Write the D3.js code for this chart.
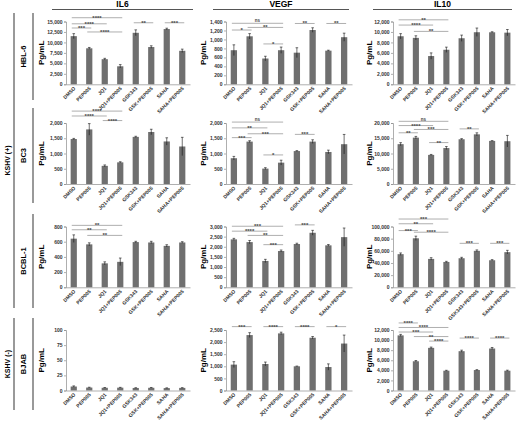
<!DOCTYPE html>
<meta charset="utf-8">
<style>
  body { margin: 0; background: #fff; }
  svg { font-family: "Liberation Sans", Arial, sans-serif; font-weight: bold; }
  .axis path, .axis line { stroke: #8c8c8c; stroke-width: 0.7px; fill: none; }
  .axis text { fill: #333; font-size: 5px; font-weight: bold; font-family: "Liberation Sans", Arial, sans-serif; }
  .bar { fill: #6f6f6f; }
  .err { stroke: #111; stroke-width: 0.6px; }
  .sig line { stroke: #8c8c8c; stroke-width: 0.7px; }
  .sig text { fill: #444; font-size: 6px; text-anchor: middle; }
  .frame { stroke: #555; stroke-width: 1.2px; }
</style>
<body>
<script src="https://d3js.org/d3.v7.min.js"></script>
<script>

  // categories (tick labels)
  var cats = ["DMSO", "PEP005", "JQ1", "JQ1+PEP005", "GSK343", "GSK+PEP005", "SAHA", "SAHA+PEP005"];
  var catsAlt = ["DMSO", "PEP005", "JQ1", "JQ1+PEP005", "GSK343", "GSK343+PEP005", "SAHA", "SAHA+PEP005"];

  var cytokines = ["IL6", "VEGF", "IL10"];
  var cellLines = ["HBL-6", "BC3", "BCBL-1", "BJAB"];

  // means (Pg/mL) and error bars
  var il6_HBL6 = [11500, 8600, 6000, 4300, 12300, 8900, 13200, 8000];
  var il6_HBL6_err = [600, 200, 200, 400, 700, 300, 200, 400];
  var il6_BC3 = [1475, 1790, 595, 710, 1545, 1705, 1395, 1230];
  var il6_BC3_err = [20, 190, 30, 20, 20, 90, 120, 300];
  var il6_BCBL1 = [640, 565, 315, 335, 595, 590, 545, 590];
  var il6_BCBL1_err = [50, 20, 20, 50, 10, 15, 15, 10];
  var il6_BJAB = [6.6, 4.9, 4.5, 4.7, 4.2, 4.5, 4.0, 4.3];
  var il6_BJAB_err = [1, 0.5, 0.4, 0.5, 0.4, 0.5, 0.4, 0.4];

  var vegf_HBL6 = [760, 1070, 575, 760, 705, 1210, 750, 1050];
  var vegf_HBL6_err = [120, 60, 50, 70, 110, 50, 10, 90];
  var vegf_BC3 = [845, 1390, 505, 700, 1080, 1390, 1050, 1305];
  var vegf_BC3_err = [60, 30, 30, 80, 15, 60, 60, 320];
  var vegf_BCBL1 = [2365, 2230, 1300, 1790, 2135, 2690, 2070, 2475];
  var vegf_BCBL1_err = [50, 80, 80, 50, 40, 120, 40, 450];
  var vegf_BJAB = [1070, 2290, 1095, 2360, 1000, 2180, 970, 1940];
  var vegf_BJAB_err = [120, 100, 80, 50, 10, 50, 130, 350];

  var il10_HBL6 = [9180, 8870, 5400, 6600, 8800, 9950, 9940, 9870];
  var il10_HBL6_err = [500, 400, 600, 500, 600, 800, 100, 600];
  var il10_BC3 = [13060, 15200, 9540, 11780, 14670, 16280, 14130, 14030];
  var il10_BC3_err = [500, 400, 150, 500, 200, 500, 100, 1900];
  var il10_BCBL1 = [54500, 80600, 46700, 41700, 47800, 60000, 44500, 57800];
  var il10_BCBL1_err = [2000, 3500, 2000, 1000, 1500, 1500, 1000, 3000];
  var il10_BJAB = [10930, 5800, 8460, 3930, 7800, 4060, 8330, 3930];
  var il10_BJAB_err = [200, 150, 150, 80, 200, 80, 200, 100];

  // y-axis ticks per panel
  var ticks_il6 = [[0, 2500, 5000, 7500, 10000, 12500, 15000], [0, 500, 1000, 1500, 2000], [0, 200, 400, 600, 800], [0, 25, 50, 75, 100]];
  var ticks_vegf = [[0, 200, 400, 600, 800, 1000, 1200, 1400], [0, 500, 1000, 1500, 2000], [0, 500, 1000, 1500, 2000, 2500, 3000], [0, 500, 1000, 1500, 2000, 2500]];
  var ticks_il10 = [[0, 2000, 4000, 6000, 8000, 10000, 12000], [0, 5000, 10000, 15000, 20000], [0, 20000, 40000, 60000, 80000, 100000], [0, 2000, 4000, 6000, 8000, 10000, 12000]];

  // significance brackets: [from, to, height (Pg/mL), label]
  var sig_il6_HBL6 = [[0, 3, 15900, "****"], [0, 2, 14450, "****"], [0, 1, 13450, "***"], [1, 3, 12500, "****"], [4, 5, 14700, "**"], [6, 7, 14700, "***"]];
  var sig_il6_BC3 = [[0, 3, 2390, "****"], [0, 2, 2230, "****"], [2, 3, 2080, "****"]];
  var sig_il6_BCBL1 = [[0, 3, 815, "**"], [0, 2, 757, "**"], [1, 3, 683, "**"]];
  var sig_il6_BJAB = [];
  var sig_vegf_HBL6 = [[0, 3, 1360, "ns"], [1, 3, 1268, "**"], [0, 1, 1210, "*"], [2, 3, 900, "*"], [4, 5, 1356, "**"], [6, 7, 1356, "**"]];
  var sig_vegf_BC3 = [[0, 3, 2030, "ns"], [0, 2, 1840, "**"], [1, 3, 1647, "***"], [0, 1, 1520, "***"], [2, 3, 953, "*"], [4, 5, 1627, "***"]];
  var sig_vegf_BCBL1 = [[0, 3, 3013, "***"], [0, 2, 2770, "****"], [1, 3, 2560, "**"], [2, 3, 2104, "***"], [4, 5, 3080, "***"]];
  var sig_vegf_BJAB = [[0, 1, 2640, "***"], [2, 3, 2640, "****"], [4, 5, 2640, "****"], [6, 7, 2640, "*"]];
  var sig_il10_HBL6 = [[0, 3, 12320, "**"], [0, 2, 11320, "****"], [1, 3, 10110, "**"]];
  var sig_il10_BC3 = [[0, 3, 20550, "ns"], [0, 2, 19160, "****"], [1, 3, 17880, "***"], [0, 1, 16790, "**"], [2, 3, 13580, "**"], [4, 5, 18070, "**"]];
  var sig_il10_BCBL1 = [[0, 3, 112300, "***"], [0, 2, 104500, "**"], [0, 1, 93300, "***"], [1, 3, 90600, "****"], [4, 5, 72300, "***"], [6, 7, 72300, "***"]];
  var sig_il10_BJAB = [[0, 1, 13400, "****"], [0, 3, 12500, "****"], [0, 2, 11600, "***"], [1, 3, 10700, "**"], [2, 3, 9800, "****"], [4, 5, 10400, "****"], [6, 7, 10400, "****"]];

  var panels = [
    [[il6_HBL6, il6_HBL6_err, sig_il6_HBL6, cats], [vegf_HBL6, vegf_HBL6_err, sig_vegf_HBL6, cats], [il10_HBL6, il10_HBL6_err, sig_il10_HBL6, cats]],
    [[il6_BC3, il6_BC3_err, sig_il6_BC3, cats], [vegf_BC3, vegf_BC3_err, sig_vegf_BC3, cats], [il10_BC3, il10_BC3_err, sig_il10_BC3, cats]],
    [[il6_BCBL1, il6_BCBL1_err, sig_il6_BCBL1, cats], [vegf_BCBL1, vegf_BCBL1_err, sig_vegf_BCBL1, cats], [il10_BCBL1, il10_BCBL1_err, sig_il10_BCBL1, catsAlt]],
    [[il6_BJAB, il6_BJAB_err, sig_il6_BJAB, cats], [vegf_BJAB, vegf_BJAB_err, sig_vegf_BJAB, cats], [il10_BJAB, il10_BJAB_err, sig_il10_BJAB, cats]]
  ];
  var tickSets = [ticks_il6, ticks_vegf, ticks_il10];

  // layout
  var colBox = [{x0: 66, x1: 190, lab: 44, h0: 52, h1: 193},
                {x0: 226, x1: 352, lab: 206, h0: 213, h1: 349},
                {x0: 393, x1: 515, lab: 372, h0: 373, h1: 512}];
  var rowBox = [{top: 21.5, bottom: 84.3, l0: 13, l1: 100},
                {top: 123, bottom: 184, l0: 108, l1: 203},
                {top: 226.5, bottom: 287.3, l0: 214, l1: 308},
                {top: 330, bottom: 390.5, l0: 318, l1: 410}];

  var svg = d3.select("body").append("svg")
    .attr("width", 520)
    .attr("height", 422);

  var fmt = d3.format(",");

  // column headers
  colBox.forEach(function(c, j) {
    svg.append("text")
      .attr("x", (c.h0 + c.h1) / 2).attr("y", 7)
      .attr("text-anchor", "middle")
      .style("font-size", "8.5px")
      .text(cytokines[j]);
    svg.append("line").attr("class", "frame")
      .attr("x1", c.h0).attr("x2", c.h1).attr("y1", 9.5).attr("y2", 9.5);
  });

  // row labels
  rowBox.forEach(function(r, i) {
    var cy = (r.l0 + r.l1) / 2;
    svg.append("line").attr("class", "frame")
      .attr("x1", 33).attr("x2", 33).attr("y1", r.l0).attr("y2", r.l1);
    svg.append("text")
      .attr("transform", "translate(26," + cy + ") rotate(-90)")
      .attr("text-anchor", "middle")
      .style("font-size", "7.5px")
      .text(cellLines[i]);
  });

  // KSHV groups
  var groups = [{label: "KSHV (+)", y0: 13, y1: 308}, {label: "KSHV (-)", y0: 318, y1: 410}];
  groups.forEach(function(g) {
    svg.append("line").attr("class", "frame")
      .attr("x1", 14).attr("x2", 14).attr("y1", g.y0).attr("y2", g.y1);
    svg.append("text")
      .attr("transform", "translate(9.5," + (g.y0 + g.y1) / 2 + ") rotate(-90)")
      .attr("text-anchor", "middle")
      .style("font-size", "7px")
      .text(g.label);
  });

  // panels
  panels.forEach(function(row, i) {
    var r = rowBox[i];
    row.forEach(function(p, j) {
      var c = colBox[j];
      var vals = p[0], errs = p[1], sigs = p[2], labels = p[3];
      var tk = tickSets[j][i];

      var x = d3.scaleBand()
        .domain(d3.range(vals.length))
        .range([c.x0, c.x1])
        .paddingInner(0.6)
        .paddingOuter(0.3);

      var y = d3.scaleLinear()
        .domain([0, tk[tk.length - 1]])
        .range([r.bottom, r.top]);

      var g = svg.append("g");

      // bars
      g.selectAll(".bar")
        .data(vals)
        .enter().append("rect")
        .attr("class", "bar")
        .attr("x", function(d, k) { return x(k); })
        .attr("width", x.bandwidth())
        .attr("y", function(d) { return y(d); })
        .attr("height", function(d) { return y(0) - y(d); });

      // error bars
      var eb = g.selectAll(".eb")
        .data(vals)
        .enter().append("g")
        .attr("class", "eb");
      eb.append("line").attr("class", "err")
        .attr("x1", function(d, k) { return x(k) + x.bandwidth() / 2; })
        .attr("x2", function(d, k) { return x(k) + x.bandwidth() / 2; })
        .attr("y1", function(d, k) { return y(d - errs[k]); })
        .attr("y2", function(d, k) { return y(d + errs[k]); });
      eb.append("line").attr("class", "err")
        .attr("x1", function(d, k) { return x(k) + x.bandwidth() / 2 - 1.3; })
        .attr("x2", function(d, k) { return x(k) + x.bandwidth() / 2 + 1.3; })
        .attr("y1", function(d, k) { return y(d + errs[k]); })
        .attr("y2", function(d, k) { return y(d + errs[k]); });

      // y axis
      g.append("g")
        .attr("class", "axis")
        .attr("transform", "translate(" + c.x0 + ",0)")
        .call(d3.axisLeft(y).tickValues(tk).tickFormat(fmt).tickSize(2).tickPadding(1.5));

      // x axis
      var xa = g.append("g")
        .attr("class", "axis")
        .attr("transform", "translate(0," + r.bottom + ")")
        .call(d3.axisBottom(x).tickSize(0).tickFormat(function(k) { return labels[k]; }));
      xa.selectAll("text")
        .attr("text-anchor", "end")
        .attr("dy", null)
        .attr("y", 0)
        .attr("transform", "translate(2,4.5) rotate(-45)");

      // y label
      svg.append("text")
        .attr("transform", "translate(" + c.lab + "," + (r.top + r.bottom) / 2 + ") rotate(-90)")
        .attr("text-anchor", "middle")
        .style("font-size", "8px")
        .text("Pg/mL");

      // significance brackets
      var sg = g.selectAll(".sig")
        .data(sigs)
        .enter().append("g")
        .attr("class", "sig");
      sg.append("line")
        .attr("x1", function(d) { return x(d[0]) + x.bandwidth() / 2 - 2; })
        .attr("x2", function(d) { return x(d[1]) + x.bandwidth() / 2 + 2; })
        .attr("y1", function(d) { return y(d[2]); })
        .attr("y2", function(d) { return y(d[2]); });
      sg.append("text")
        .attr("x", function(d) { return (x(d[0]) + x(d[1])) / 2 + x.bandwidth() / 2; })
        .attr("y", function(d) { return y(d[2]) + (d[3] === "ns" ? -0.8 : 2); })
        .style("font-size", function(d) { return d[3] === "ns" ? "4.5px" : "6px"; })
        .text(function(d) { return d[3]; });
    });
  });

</script>
